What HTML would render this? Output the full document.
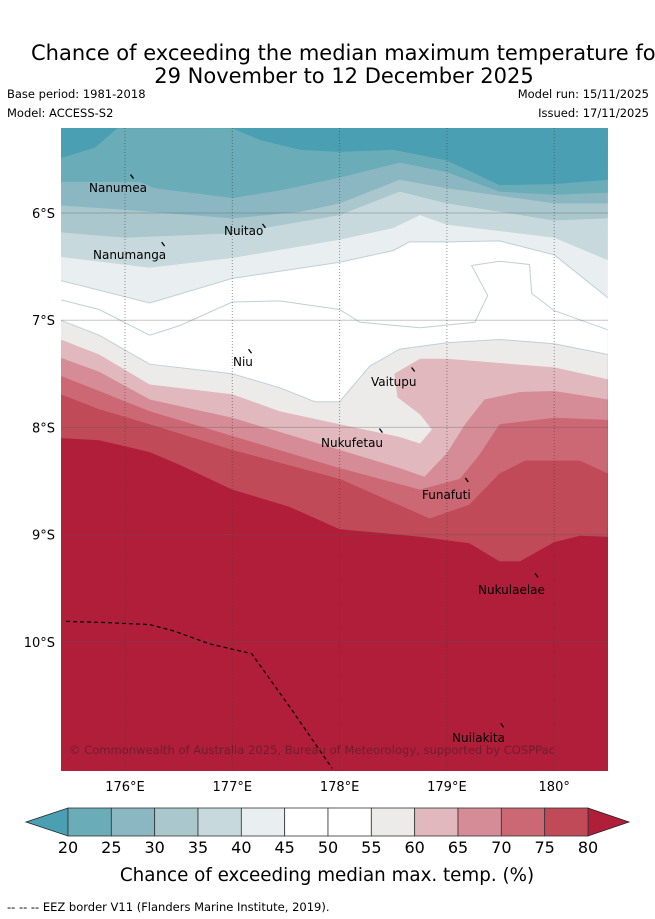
<!DOCTYPE html>
<html><head><meta charset="utf-8"><style>
html,body{margin:0;padding:0;background:#fff;}
body{width:655px;height:919px;overflow:hidden;position:relative;font-family:"DejaVu Sans","Liberation Sans",sans-serif;}
.t{position:absolute;white-space:nowrap;color:#000;}
</style></head><body>
<div class="t" style="left:31px;top:41px;font-size:21px;line-height:25px;">Chance of exceeding the median maximum temperature for</div>
<div class="t" style="left:0;width:688px;text-align:center;top:64px;font-size:21px;line-height:25px;">29 November to 12 December 2025</div>
<div class="t" style="left:7px;top:87px;font-size:11.5px;">Base period: 1981-2018</div>
<div class="t" style="left:7px;top:106px;font-size:11.5px;">Model: ACCESS-S2</div>
<div class="t" style="right:6px;top:87px;font-size:11.5px;">Model run: 15/11/2025</div>
<div class="t" style="right:6px;top:106px;font-size:11.5px;">Issued: 17/11/2025</div>
<svg id="map" width="655" height="919" style="position:absolute;left:0;top:0;" xmlns="http://www.w3.org/2000/svg"></svg>
<script>
// thresholds and band colours
const levels=[80,75,70,65,60,55,50,45,40,35,30,25,20];
const fillAbove=["#c04a58","#cb6873","#d58c96","#e0b8bd","#edebea","#ffffff","#ffffff","#e9eff1","#c8d9de","#a9c7cc","#8bb7c3","#6aacb8","#4aa0b2"];
// contour boundaries [lon(E), lat(S)]
const c80=[[175.40,8.10],[175.76,8.12],[176.23,8.23],[176.51,8.35],[177.00,8.58],[177.53,8.74],[178.00,8.95],[178.75,9.02],[179.21,9.08],[179.49,9.25],[179.68,9.25],[180.00,9.07],[180.24,9.01],[180.50,9.02]];
const c75=[[175.40,7.69],[175.76,7.83],[176.23,7.97],[177.00,8.21],[178.00,8.48],[178.84,8.85],[179.21,8.72],[179.49,8.43],[179.73,8.31],[180.24,8.31],[180.50,8.43]];
const c70=[[175.40,7.52],[175.76,7.66],[176.23,7.85],[177.00,8.08],[178.00,8.38],[178.75,8.58],[179.12,8.48],[179.30,8.26],[179.49,7.97],[180.00,7.91],[180.50,7.93]];
const c65=[[175.40,7.35],[175.76,7.48],[176.23,7.74],[177.00,7.91],[178.00,8.21],[178.56,8.38],[178.79,8.46],[179.00,8.24],[179.17,7.97],[179.35,7.74],[179.68,7.67],[180.00,7.66],[180.50,7.74]];
const c60=[[175.40,7.18],[175.76,7.32],[176.23,7.60],[177.00,7.69],[177.44,7.85],[178.00,7.97],[178.56,8.09],[178.75,8.15],[178.86,8.02],[178.75,7.88],[178.54,7.72],[178.51,7.50],[178.75,7.36],[179.00,7.36],[180.00,7.44],[180.50,7.55]];
const c55=[[175.40,7.00],[175.76,7.14],[176.23,7.41],[177.00,7.50],[177.44,7.63],[177.77,7.76],[178.00,7.76],[178.28,7.43],[178.56,7.27],[179.00,7.21],[179.49,7.18],[180.00,7.22],[180.50,7.32]];
const c50=[[175.40,6.81],[175.76,6.90],[176.23,7.14],[176.51,7.05],[177.00,6.83],[177.44,6.82],[178.00,6.90],[178.19,7.02],[178.75,7.07],[179.26,7.02],[179.38,6.77],[179.23,6.49],[179.49,6.45],[179.77,6.48],[179.79,6.75],[180.00,6.91],[180.50,7.09]];
const c45=[[175.40,6.63],[176.23,6.84],[177.00,6.61],[178.00,6.46],[178.50,6.35],[178.65,6.27],[179.00,6.27],[179.49,6.26],[180.00,6.39],[180.50,6.79]];
const c40=[[175.40,6.41],[176.23,6.51],[177.00,6.42],[178.00,6.25],[178.50,6.14],[178.75,6.02],[179.00,6.11],[180.00,6.23],[180.50,6.44]];
const c35=[[175.40,6.18],[176.00,6.23],[177.00,6.19],[178.00,6.02],[178.56,5.80],[179.00,5.91],[180.00,6.07],[180.50,6.05]];
const c30=[[175.40,5.93],[176.00,5.97],[177.00,6.05],[177.63,5.99],[178.00,5.91],[178.56,5.69],[179.00,5.77],[180.00,5.91],[180.50,5.91]];
const c25=[[175.40,5.71],[176.14,5.71],[176.28,5.77],[177.00,5.86],[177.44,5.79],[178.00,5.67],[178.56,5.53],[179.00,5.62],[179.49,5.80],[180.00,5.83],[180.50,5.81]];
const c20=[[175.40,5.49],[175.72,5.39],[175.93,5.21],[177.00,5.21],[177.26,5.32],[177.63,5.41],[178.00,5.43],[178.50,5.41],[179.00,5.51],[179.49,5.74],[180.00,5.73],[180.50,5.69]];
const contours=[c80,c75,c70,c65,c60,c55,c50,c45,c40,c35,c30,c25,c20];
const eez=[[175.45,9.81],[175.81,9.82],[176.23,9.84],[176.46,9.90],[176.79,10.02],[177.18,10.11],[177.53,10.60],[177.93,11.18]];
const lonTicks=[176,177,178,179,180];
const lonLabels=["176°E","177°E","178°E","179°E","180°"];
const latTicks=[6,7,8,9,10];
const latLabels=["6°S","7°S","8°S","9°S","10°S"];
const islands=[["Nanumea",176.07,5.66,89,192],["Nuitao",177.30,6.12,224,235],["Nanumanga",176.36,6.29,93,259],["Niu",177.17,7.29,233,366],["Vaitupu",178.69,7.46,371,386],["Nukufetau",178.39,8.03,321,447],["Funafuti",179.19,8.49,422,499],["Nukulaelae",179.84,9.38,478,594],["Nuilakita",179.52,10.78,452,742]];
const cbBounds=[20,25,30,35,40,45,50,55,60,65,70,75,80];
const cbColors=["#6aacb8","#8bb7c3","#a9c7cc","#c8d9de","#e9eff1","#ffffff","#ffffff","#edebea","#e0b8bd","#d58c96","#cb6873","#c04a58"];

const X0=61,X1=608,Y0=128,Y1=771;
const xs=lon=>125+(lon-176)*107.3;
const ys=lat=>213+(lat-6)*107.2;
const NS="http://www.w3.org/2000/svg";
const svg=document.getElementById('map');
function mk(tag,attrs,parent){const e=document.createElementNS(NS,tag);for(const k in attrs)e.setAttribute(k,attrs[k]);(parent||svg).appendChild(e);return e;}
const defs=mk('defs',{});
const cp=mk('clipPath',{id:'clip'},defs);mk('rect',{x:X0,y:Y0,width:X1-X0,height:Y1-Y0},cp);
const g=mk('g',{'clip-path':'url(#clip)'});
const bg=mk('rect',{x:X0,y:Y0,width:X1-X0,height:Y1-Y0,fill:'#b01e3a'},g);


contours.forEach((c,i)=>{
  const pts=c.map(p=>xs(p[0]).toFixed(1)+','+ys(p[1]).toFixed(1));
  pts.push(X1+','+(Y0-2),X0+','+(Y0-2));
  const poly=mk('polygon',{points:pts.join(' '),fill:fillAbove[i]},g);
  
  
  if(levels[i]>=45&&levels[i]<=55){
    const ln=mk('polyline',{points:c.map(p=>xs(p[0]).toFixed(1)+','+ys(p[1]).toFixed(1)).join(' '),fill:'none',stroke:'#bfcfd8','stroke-width':1},g);
    
    
  }
});
latTicks.forEach((t,i)=>{
  const l=mk('line',{x1:X0,x2:X1,y1:ys(t),y2:ys(t),stroke:'rgba(90,90,90,0.35)','stroke-width':1},g);
  
  
  const tx=mk('text',{x:X0-6,y:ys(t)+5,'text-anchor':'end','font-size':13,'font-family':'DejaVu Sans, sans-serif'});
  tx.textContent=latLabels[i];
  
  
});
lonTicks.forEach((t,i)=>{
  const l=mk('line',{x1:xs(t),x2:xs(t),y1:Y0,y2:Y1,stroke:'rgba(60,60,60,0.55)','stroke-width':1,'stroke-dasharray':'1,2'},g);
  
  
  const tx=mk('text',{x:xs(t),y:Y1+20,'text-anchor':'middle','font-size':13,'font-family':'DejaVu Sans, sans-serif'});
  tx.textContent=lonLabels[i];
  
  
});
const ez=mk('polyline',{points:eez.map(p=>xs(p[0]).toFixed(1)+','+ys(p[1]).toFixed(1)).join(' '),fill:'none',stroke:'#000','stroke-width':1.2,'stroke-dasharray':'4,3'},g);


islands.forEach(d=>{
  const m=mk('line',{x1:xs(d[1])-2,y1:ys(d[2])-2,x2:xs(d[1])+1,y2:ys(d[2])+2,stroke:'#000','stroke-width':1.3},g);
  
  
  const tx=mk('text',{x:d[3],y:d[4],'font-size':12,'font-family':'DejaVu Sans, sans-serif',fill:'#000'},g);
  tx.textContent=d[0];
  
  
});
const cr=mk('text',{x:69,y:754,'font-size':11.5,'textLength':486,'font-family':'DejaVu Sans, sans-serif',fill:'rgba(90,30,40,0.75)'},g);
cr.textContent='© Commonwealth of Australia 2025, Bureau of Meteorology, supported by COSPPac';


// colorbar
const cbX0=68,cbX1=588,cbY=808,cbH=28;
const cbx=v=>cbX0+(v-20)/60*(cbX1-cbX0);
const la=mk('polygon',{points:`${cbX0},${cbY} ${cbX0},${cbY+cbH} 26,${cbY+cbH/2}`,fill:'#4aa0b2',stroke:'#222','stroke-width':0.8});


const ra=mk('polygon',{points:`${cbX1},${cbY} ${cbX1},${cbY+cbH} 629,${cbY+cbH/2}`,fill:'#b01e3a',stroke:'#222','stroke-width':0.8});


cbColors.forEach((c,i)=>{
  const r=mk('rect',{x:cbx(cbBounds[i]),y:cbY,width:cbx(cbBounds[i+1])-cbx(cbBounds[i]),height:cbH,fill:c,stroke:'#333','stroke-width':0.8});
  
  
});
cbBounds.forEach(v=>{
  const tx=mk('text',{x:cbx(v),y:853,'text-anchor':'middle','font-size':16,'font-family':'DejaVu Sans, sans-serif'});
  tx.textContent=String(v);
  
  
});
const cl=mk('text',{x:327,y:881,'text-anchor':'middle','font-size':18.3,'font-family':'DejaVu Sans, sans-serif'});
cl.textContent='Chance of exceeding median max. temp. (%)';


const ft=mk('text',{x:7,y:911,'font-size':11.5,'font-family':'DejaVu Sans, sans-serif'});
ft.textContent='--  --  -- EEZ border V11 (Flanders Marine Institute, 2019).';


</script>
</body></html>
